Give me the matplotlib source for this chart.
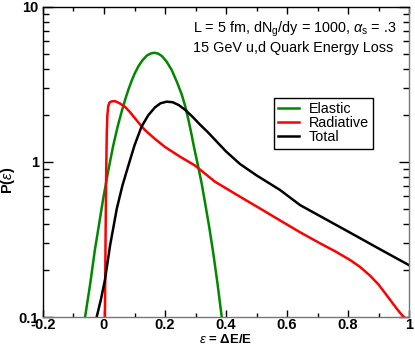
import matplotlib
matplotlib.use("Agg")
import matplotlib.pyplot as plt
from matplotlib.ticker import FixedLocator, FixedFormatter, MultipleLocator, LogLocator, NullFormatter

plt.rcParams['font.family'] = ['Liberation Sans', 'DejaVu Sans']
plt.rcParams['mathtext.fontset'] = 'custom'
plt.rcParams['mathtext.rm'] = 'Liberation Sans'
plt.rcParams['mathtext.it'] = 'Liberation Sans:italic'
plt.rcParams['mathtext.bf'] = 'Liberation Sans:bold'

# values
elastic_x = [-0.062, -0.045, -0.03, -0.015, -0.002, 0.015, 0.03, 0.045, 0.058, 0.07,
             0.08, 0.09, 0.1, 0.113, 0.125, 0.14, 0.152, 0.165, 0.178, 0.19,
             0.205, 0.222, 0.24, 0.255, 0.266, 0.276, 0.285, 0.295, 0.309, 0.32,
             0.331, 0.345, 0.358, 0.372, 0.386]
elastic_y = [0.1, 0.165, 0.27, 0.41, 0.59, 0.9, 1.27, 1.7, 2.12, 2.55,
             2.93, 3.32, 3.7, 4.15, 4.5, 4.85, 5.0, 5.07, 5.0, 4.82,
             4.45, 3.92, 3.25, 2.72, 2.3, 1.9, 1.57, 1.25, 0.93, 0.73,
             0.55, 0.38, 0.26, 0.165, 0.1]

radiative_x = [0.003, 0.005, 0.007, 0.009, 0.011, 0.014, 0.018, 0.025, 0.036, 0.05,
               0.069, 0.085, 0.102, 0.12, 0.134, 0.165, 0.2, 0.25, 0.298, 0.364,
               0.446, 0.5, 0.577, 0.643, 0.708, 0.76, 0.807, 0.84, 0.872, 0.9,
               0.921, 0.942, 0.96, 0.975, 0.995]
radiative_y = [0.1, 0.3, 0.8, 1.5, 2.0, 2.3, 2.42, 2.46, 2.47, 2.4,
               2.27, 2.1, 1.91, 1.73, 1.61, 1.42, 1.25, 1.08, 0.95, 0.746,
               0.597, 0.517, 0.42, 0.352, 0.299, 0.264, 0.233, 0.21, 0.185, 0.162,
               0.143, 0.126, 0.113, 0.104, 0.095]

total_x = [-0.024, -0.01, 0.003, 0.02, 0.042, 0.06, 0.08, 0.1, 0.123, 0.145,
           0.167, 0.185, 0.205, 0.225, 0.245, 0.266, 0.29, 0.315, 0.34, 0.364,
           0.4, 0.446, 0.5, 0.577, 0.643, 0.708, 0.807, 0.9, 1.0]
total_y = [0.1, 0.13, 0.173, 0.29, 0.50, 0.7, 0.95, 1.28, 1.69, 2.0,
           2.25, 2.39, 2.45, 2.43, 2.33, 2.17, 1.96, 1.74, 1.56, 1.39,
           1.17, 0.97, 0.82, 0.66, 0.527, 0.448, 0.35, 0.277, 0.216]

xticks = [-0.2, 0, 0.2, 0.4, 0.6, 0.8, 1.0]
xtick_labels = ['-0.2', '0', '0.2', '0.4', '0.6', '0.8', '1']
yticks = [0.1, 1, 10]
ytick_labels = ['0.1', '1', '10']

fig = plt.figure(figsize=(4.15, 3.46), dpi=100)
ax = fig.add_axes([0.1036, 0.0838, 0.882, 0.896])

ax.plot(elastic_x, elastic_y, color='#008800', lw=1.8, label='Elastic')
ax.plot(radiative_x, radiative_y, color='#ff0000', lw=1.8, label='Radiative')
ax.plot(total_x, total_y, color='black', lw=1.8, label='Total')

ax.set_yscale('log')
ax.set_xlim(-0.2, 1.0)
ax.set_ylim(0.1, 10)

ax.xaxis.set_major_locator(FixedLocator(xticks))
ax.xaxis.set_major_formatter(FixedFormatter(xtick_labels))
ax.xaxis.set_minor_locator(MultipleLocator(0.1))
ax.yaxis.set_major_locator(FixedLocator(yticks))
ax.yaxis.set_major_formatter(FixedFormatter(ytick_labels))
ax.yaxis.set_minor_locator(LogLocator(base=10, subs=range(2, 10)))
ax.yaxis.set_minor_formatter(NullFormatter())

ax.tick_params(which='both', direction='in', top=True, right=True, width=1.0)
ax.tick_params(axis='x', which='major', length=5, pad=1)
ax.tick_params(axis='x', which='minor', length=3)
ax.tick_params(axis='y', which='major', length=7.5, pad=3)
ax.tick_params(axis='y', which='minor', length=4)
for lab in ax.get_xticklabels() + ax.get_yticklabels():
    lab.set_fontweight('bold')
    lab.set_fontsize(10.5)

for side in ['left', 'top']:
    ax.spines[side].set_color('black')
for side in ['bottom', 'right']:
    ax.spines[side].set_color('#777777')
for s in ax.spines.values():
    s.set_linewidth(1.0)

ax.set_xlabel(r'$\varepsilon$ = $\mathbf{\Delta E/E}$', fontsize=9.5, fontweight='bold')
ax.xaxis.set_label_coords(0.5, -0.051)
ax.set_ylabel(r'P($\varepsilon$)', fontsize=10.5, fontweight='bold')
ax.yaxis.set_label_coords(-0.072, 0.44)

ax.text(0.967, 0.929, r'L = 5 fm, dN$_\mathregular{g}$/dy = 1000, $\alpha_\mathregular{s}$ = .3',
        transform=ax.transAxes, ha='right', va='center', fontsize=10.4)
ax.text(0.956, 0.868, '15 GeV u,d Quark Energy Loss',
        transform=ax.transAxes, ha='right', va='center', fontsize=10.4)

leg = ax.legend(loc='upper left', bbox_to_anchor=(0.631, 0.706), fontsize=10.4,
                frameon=True, fancybox=False, edgecolor='black', framealpha=1,
                handlelength=1.4, labelspacing=0.0, borderpad=0.3, handletextpad=0.7,
                borderaxespad=0)
leg.get_frame().set_linewidth(1.0)

fig.savefig('out.png', dpi=100)
